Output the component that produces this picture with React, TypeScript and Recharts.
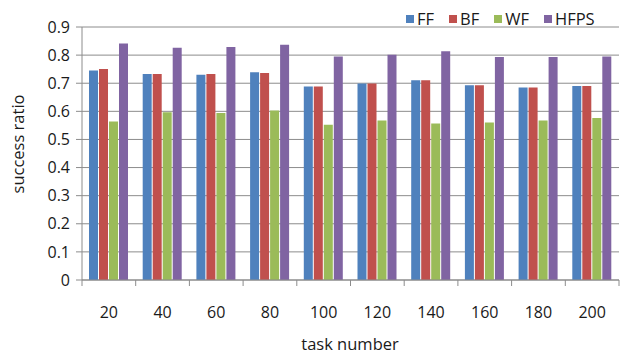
import { BarChart, Bar, XAxis, YAxis, CartesianGrid, Legend, Label } from 'recharts'

const taskNumbers = ['20', '40', '60', '80', '100', '120', '140', '160', '180', '200']
const ffValues = [0.745, 0.733, 0.73, 0.739, 0.688, 0.699, 0.711, 0.693, 0.685, 0.69]
const bfValues = [0.751, 0.733, 0.733, 0.736, 0.688, 0.699, 0.711, 0.693, 0.685, 0.69]
const wfValues = [0.564, 0.597, 0.594, 0.603, 0.552, 0.567, 0.557, 0.56, 0.567, 0.576]
const hfpsValues = [0.841, 0.826, 0.829, 0.837, 0.795, 0.801, 0.814, 0.793, 0.793, 0.795]
const yTicks = [0, 0.1, 0.2, 0.3, 0.4, 0.5, 0.6, 0.7, 0.8, 0.9]

const series = [
  { key: 'FF', color: '#4F81BD' },
  { key: 'BF', color: '#C0504D' },
  { key: 'WF', color: '#9BBB59' },
  { key: 'HFPS', color: '#8064A2' },
]

const data = taskNumbers.map((t, i) => ({
  name: t,
  FF: ffValues[i],
  BF: bfValues[i],
  WF: wfValues[i],
  HFPS: hfpsValues[i],
}))

const FONT = '"Open Sans", "Noto Sans", sans-serif'
const AXIS = '#8c8c8c'
const TEXT = '#1a1a1a'
const BAND = (619 - 82) / taskNumbers.length

function XTick(props: any) {
  const { x, y, payload, index } = props
  const axisY = y - 8
  return (
    <g>
      <line x1={x - BAND / 2} y1={axisY} x2={x - BAND / 2} y2={axisY + 6} stroke={AXIS} />
      {index === taskNumbers.length - 1 && (
        <line x1={x + BAND / 2} y1={axisY} x2={x + BAND / 2} y2={axisY + 6} stroke={AXIS} />
      )}
      <text x={x} y={axisY + 38} textAnchor="middle" fontSize={16} fontFamily={FONT} fill={TEXT}>
        {payload.value}
      </text>
    </g>
  )
}

function LegendContent() {
  return (
    <div style={{ display: 'flex', alignItems: 'center', fontFamily: FONT, fontSize: 16.5, color: TEXT, lineHeight: '20px' }}>
      {series.map((s) => (
        <div key={s.key} style={{ display: 'flex', alignItems: 'center', marginRight: 15 }}>
          <span style={{ width: 8, height: 8, background: s.color, display: 'inline-block', marginRight: 3 }} />
          <span>{s.key}</span>
        </div>
      ))}
    </div>
  )
}

export default function App() {
  return (
    <div style={{ position: 'absolute', left: 0, top: 0, width: 623, height: 360, background: '#fff' }}>
      <BarChart
        width={623}
        height={360}
        data={data}
        margin={{ top: 7, right: 4, left: 0, bottom: 0 }}
        barSize={9}
        barGap={1}
      >
        <CartesianGrid vertical={false} stroke={AXIS} />
        <XAxis
          dataKey="name"
          height={80}
          stroke={AXIS}
          tickLine={false}
          tick={<XTick />}
          interval={0}
        >
          <Label
            content={() => (
              <text x={350} y={350} textAnchor="middle" fontSize={16.5} fontFamily={FONT} fill={TEXT}>
                task number
              </text>
            )}
          />
        </XAxis>
        <YAxis
          width={82}
          domain={[0, 0.9]}
          ticks={yTicks}
          stroke={AXIS}
          tickSize={6}
          tickMargin={6}
          tick={{ fontSize: 16, fontFamily: FONT, fill: TEXT }}
        >
          <Label
            content={() => (
              <text
                x={24}
                y={144}
                textAnchor="middle"
                fontSize={16.5}
                fontFamily={FONT}
                fill={TEXT}
                transform="rotate(-90 24 144)"
              >
                success ratio
              </text>
            )}
          />
        </YAxis>
        <Legend
          verticalAlign="top"
          content={<LegendContent />}
          wrapperStyle={{ top: 9, left: 406, width: 217 }}
        />
        {series.map((s) => (
          <Bar key={s.key} dataKey={s.key} fill={s.color} isAnimationActive={false} />
        ))}
      </BarChart>
    </div>
  )
}
